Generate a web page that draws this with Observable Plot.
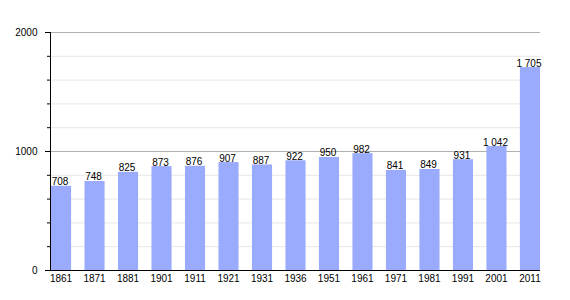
<!DOCTYPE html>
<html>
<head>
<meta charset="utf-8">
<script src="https://cdn.jsdelivr.net/npm/d3@7"></script>
<script src="https://cdn.jsdelivr.net/npm/@observablehq/plot@0.6"></script>
<style>
  html, body { margin: 0; padding: 0; background: #fff; }
</style>
</head>
<body>
<div id="chart"></div>
<script>
const years = ["1861","1871","1881","1901","1911","1921","1931","1936","1951","1961","1971","1981","1991","2001","2011"];
const population = [708, 748, 825, 873, 876, 907, 887, 922, 950, 982, 841, 849, 931, 1042, 1705];
const majorTicks = [0, 1000, 2000];
const minorTicks = [200, 400, 600, 800, 1200, 1400, 1600, 1800];

const data = years.map((y, i) => ({year: y, value: population[i]}));
const fmt = d3.formatLocale({thousands: "\u00a0", grouping: [3], decimal: ",", currency: ["", ""]}).format(",");

const chart = Plot.plot({
  width: 570,
  height: 300,
  marginLeft: 50,
  marginRight: 30,
  marginTop: 32,
  marginBottom: 30,
  style: {fontFamily: "'Liberation Sans', Arial, sans-serif", fontSize: "10px", color: "#000", background: "#fff"},
  x: {domain: years, paddingInner: 0.37, paddingOuter: 0, round: false, label: null},
  y: {domain: [0, 2000], label: null},
  marks: [
    Plot.gridY(minorTicks, {stroke: "#e6e6e6", strokeOpacity: 1}),
    Plot.gridY([1000, 2000], {stroke: "#b0b0b0", strokeOpacity: 1}),
    Plot.barY(data, {x: "year", y: "value", fill: "#9aabfd", insetLeft: 1}),
    Plot.text(data, {x: "year", y: "value", text: d => fmt(d.value), lineAnchor: "bottom", dy: -1, dx: -1, fill: "#000", fontSize: 10}),
    Plot.axisY(minorTicks, {tickSize: 3, text: null, stroke: "#000"}),
    Plot.axisY(majorTicks, {tickSize: 5, tickPadding: 8, tickFormat: d => String(d), stroke: "#000", fill: "#000"}),
    Plot.axisX({tickSize: 0, tickPadding: 4, fill: "#000"}),
    Plot.frame({anchor: "left", stroke: "#000"}),
    Plot.ruleY([0], {stroke: "#000"})
  ]
});
document.getElementById("chart").appendChild(chart);
</script>
</body>
</html>
